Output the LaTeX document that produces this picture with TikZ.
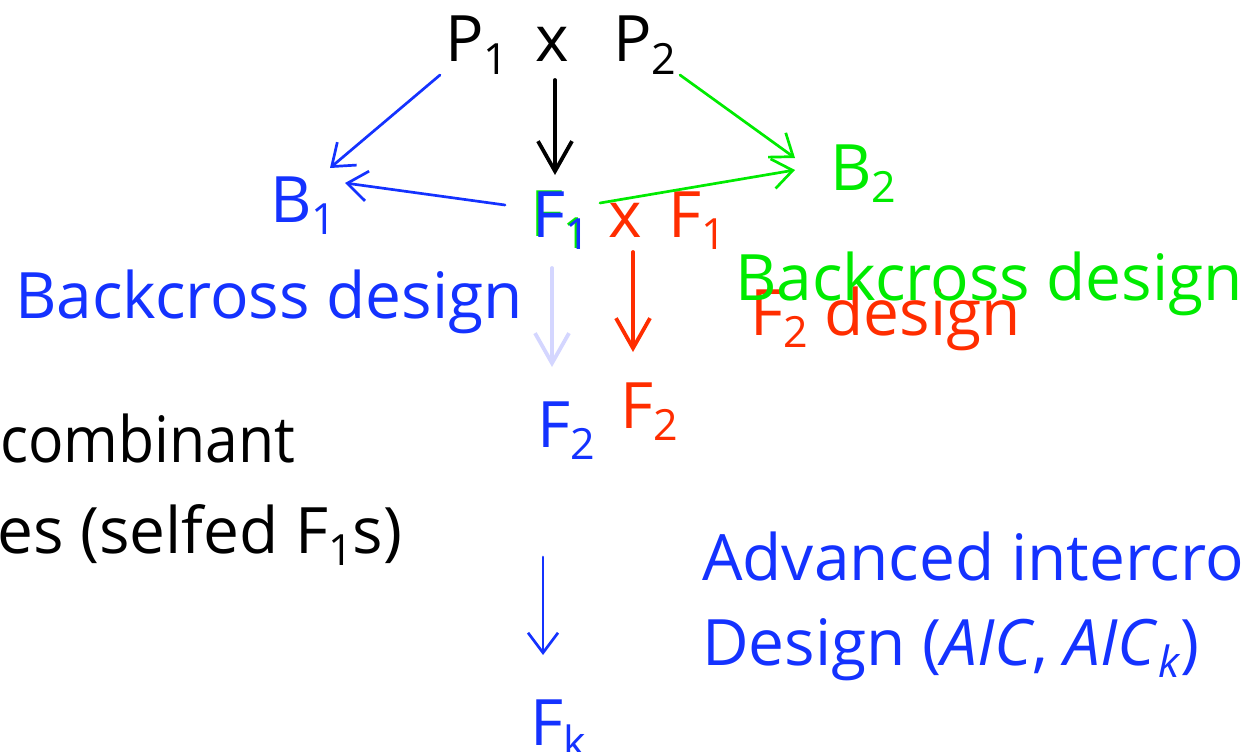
\documentclass[tikz,border=0pt]{standalone}
\usepackage{fontspec}
\setmainfont{Open Sans}
\usetikzlibrary{arrows.meta}
\definecolor{cblue}{RGB}{20,50,255}
\definecolor{cgreen}{RGB}{0,235,0}
\definecolor{cred}{RGB}{255,45,0}
\definecolor{clav}{RGB}{212,214,255}
\newcommand{\lo}[1]{\raisebox{-0.19em}{\fontsize{43}{43}\selectfont #1}}
\begin{document}
\begin{tikzpicture}[x=1pt,y=-1pt,
  txt/.style={inner sep=0pt, anchor=base west, font=\fontsize{64}{77}\selectfont},
  arr/.style={-{Straight Barb[length=30pt,width=34pt]}, line width=3.8pt, line cap=round},
  tarr/.style={-{Straight Barb[length=20pt,width=30pt]}, line width=2.7pt, line cap=round}]
\useasboundingbox (0,0) rectangle (1245,752);
\clip (0,0) rectangle (1245,752);
% texts
\node[txt] (p1) at (445,62) {P\lo{1}};
\node[txt] (cr) at (535,62) {x};
\node[txt] (p2) at (613,62) {P\lo{2}};
\node[txt,cblue] (b1) at (270,222) {B\lo{1}};
\node[txt,cgreen] (f1g) at (530,236) {F\lo{1}};
\node[txt,cblue] (f1) at (532,237) {F\lo{1}};
\node[txt,cred] (xr) at (608,237) {x};
\node[txt,cred] (f1r) at (668,237) {F\lo{1}};
\node[txt,cgreen] (b2) at (830,190) {B\lo{2}};
\node[txt,cblue] (bd1) at (15,318) {Backcross design};
\node[txt,cred] (f2d) at (750,335) {F\lo{2} design};
\node[txt,cgreen] (bd2) at (735,300) {Backcross design};
\node[txt,cblue] (f2b) at (537,447) {F\lo{2}};
\node[txt,cred] (f2r) at (620,428) {F\lo{2}};
\node[txt] (rec) at (0,462) {\scalebox{0.92}[1]{combinant}};
\node[txt] (lns) at (-3,553) {es (selfed F\lo{1}s)};
\node[txt,cblue] (fk) at (530,745) {F\lo{k}};
\node[txt,cblue] (aic1) at (702,580) {Advanced intercro};
\node[txt,cblue] (aic2) at (702,665) {Design (\textit{AIC}, \textit{AIC}\lo{\textit{k}})};
% connector ends
\coordinate (c1s) at (555,80);  \coordinate (c1e) at (555,175);
\coordinate (c2s) at (440,75);  \coordinate (c2e) at (330,168);
\coordinate (c3s) at (505,205); \coordinate (c3e) at (345,183);
\coordinate (c4s) at (680,75);  \coordinate (c4e) at (795,158);
\coordinate (c5s) at (600,203); \coordinate (c5e) at (795,170);
\coordinate (c6s) at (552,268); \coordinate (c6e) at (552,367);
\coordinate (c7s) at (633,252); \coordinate (c7e) at (633,352);
\coordinate (c8s) at (543,557); \coordinate (c8e) at (543,655);
% connectors
\draw[arr] (c1s) -- (c1e);
\draw[tarr,cblue] (c2s) -- (c2e);
\draw[tarr,cblue] (c3s) -- (c3e);
\draw[tarr,cgreen] (c4s) -- (c4e);
\draw[tarr,cgreen] (c5s) -- (c5e);
\draw[arr,clav] (c6s) -- (c6e);
\draw[arr,cred] (c7s) -- (c7e);
\draw[tarr,cblue] (c8s) -- (c8e);
\end{tikzpicture}
\end{document}
